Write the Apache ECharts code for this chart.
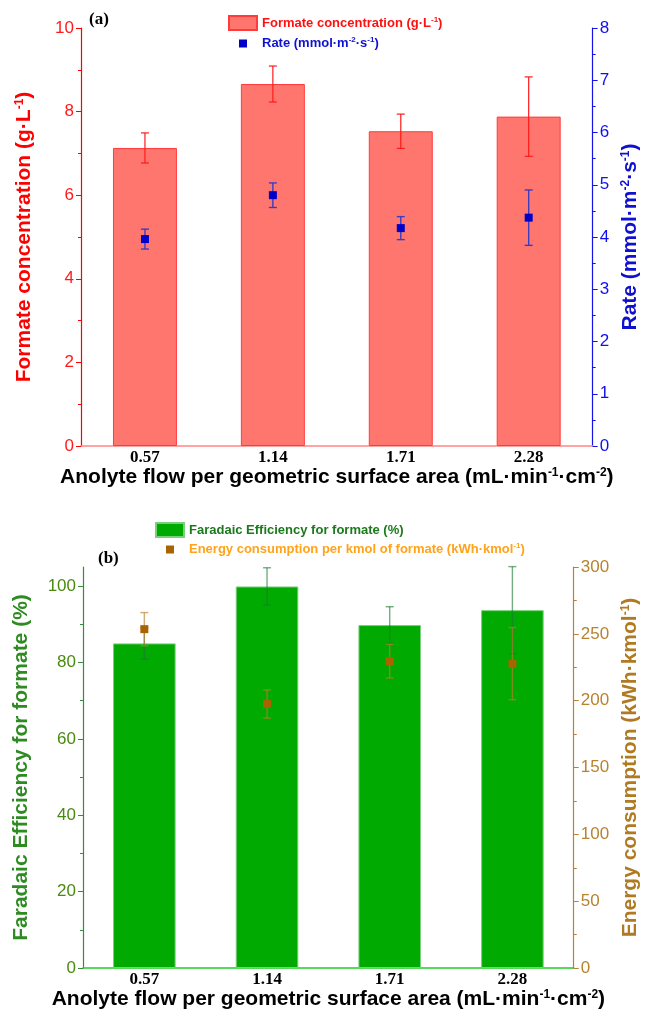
<!DOCTYPE html>
<html>
<head>
<meta charset="utf-8">
<script src="https://cdn.jsdelivr.net/npm/echarts@6/dist/echarts.min.js"></script>
<style>
  html, body { margin: 0; padding: 0; background: #fff; }
  #chart { width: 649px; height: 1011px; }
</style>
</head>
<body>
<div id="chart"></div>
<script>
// categories
const flows = ['0.57', '1.14', '1.71', '2.28'];

// panel (a)
const formateConc = [7.13, 8.66, 7.53, 7.88];
const formateErr = [0.36, 0.43, 0.41, 0.95];
const rate = [3.96, 4.80, 4.17, 4.37];
const rateErr = [0.19, 0.235, 0.22, 0.53];

// panel (b)
const faradaic = [85.0, 99.9, 89.8, 93.7];
const faradaicErr = [4.1, 4.9, 4.8, 11.4];
const energy = [253.5, 197.5, 229.6, 227.7];
const energyErr = [12.4, 10.5, 12.6, 27.0];

// tick values
const feTicks = [0, 20, 40, 60, 80, 100];
const feMinor = [10, 30, 50, 70, 90];

const chart = echarts.init(document.getElementById('chart'));

const withErr = (vals, errs) => vals.map((v, i) => [i, v, errs[i]]);

function errRender(color, cap, width) {
  return function (params, api) {
    const x = api.value(0), y = api.value(1), e = api.value(2);
    const hi = api.coord([x, y + e]);
    const lo = api.coord([x, y - e]);
    const st = { stroke: color, lineWidth: width };
    return {
      type: 'group',
      children: [
        { type: 'line', shape: { x1: hi[0], y1: hi[1], x2: lo[0], y2: lo[1] }, style: st },
        { type: 'line', shape: { x1: hi[0] - cap, y1: hi[1], x2: hi[0] + cap, y2: hi[1] }, style: st },
        { type: 'line', shape: { x1: lo[0] - cap, y1: lo[1], x2: lo[0] + cap, y2: lo[1] }, style: st }
      ]
    };
  };
}

const ARIAL = 'Liberation Sans, Arial, sans-serif';
const SERIF = 'Liberation Serif, Times New Roman, serif';
const squareIcon = 'path://M0,0h0.01v0.01h-0.01zM27.99,13.99h0.01v0.01h-0.01zM10,3h8v8h-8z';

function sup(color, size) {
  return { color: color, fontSize: size, fontWeight: 'bold', fontFamily: ARIAL, verticalAlign: 'top', lineHeight: size + 2 };
}

const legendLabels = {
  conc: '{r|Formate concentration (g·L}{rs|-1}{r|)}',
  rate: '{b|Rate (mmol·m}{bs|-2}{b|·s}{bs|-1}{b|)}',
  fe: '{g|Faradaic Efficiency for formate (%)}',
  en: '{o|Energy consumption per kmol of formate (kWh·kmol}{os|-1}{o|)}'
};
const legText = (c) => ({ color: c, fontSize: 13, fontWeight: 'bold', fontFamily: ARIAL, lineHeight: 15 });

const xName = 'Anolyte flow per geometric surface area (mL·min{s|-1}·cm{s|-2})';

function xAxisCfg(gridIndex, lineColor) {
  return {
    type: 'category', gridIndex: gridIndex, data: flows,
    axisLine: { lineStyle: { color: lineColor, width: 1.5 } },
    axisTick: { show: false },
    axisLabel: { color: '#000', fontSize: 17, fontWeight: 'bold', fontFamily: SERIF, margin: 3 },
    name: xName, nameLocation: 'middle', nameGap: 21,
    nameTextStyle: {
      color: '#000', fontSize: 21, fontWeight: 'bold', fontFamily: ARIAL,
      rich: { s: sup('#000', 12) }
    }
  };
}

function yAxisCfg(o) {
  return {
    type: 'value', gridIndex: o.grid, position: o.pos, min: o.min, max: o.max, interval: o.interval,
    splitLine: { show: false },
    axisLine: { show: true, lineStyle: { color: o.line, width: 1.2 } },
    axisTick: Object.assign({ show: true, length: 5, lineStyle: { color: o.line } }, o.tickValues ? { customValues: o.tickValues } : {}),
    minorTick: { show: o.minor !== false, splitNumber: 2, length: 3, lineStyle: { color: o.line } },
    axisLabel: Object.assign({ color: o.label, fontSize: 17, fontFamily: ARIAL, margin: 7 }, o.labelValues ? { customValues: o.labelValues } : {}),
    name: o.name, nameLocation: 'middle', nameGap: o.gap, nameRotate: o.rotate,
    nameTextStyle: {
      color: o.nameColor, fontSize: 21, fontWeight: 'bold', fontFamily: ARIAL,
      rich: { s: sup(o.nameColor, 12) }
    }
  };
}

chart.setOption({
  backgroundColor: '#fff',
  animation: false,
  title: [
    { text: '(a)', left: 84, top: 6, textStyle: { fontFamily: SERIF, fontWeight: 'bold', fontSize: 17, color: '#000' } },
    { text: '(b)', left: 93, top: 545, textStyle: { fontFamily: SERIF, fontWeight: 'bold', fontSize: 17, color: '#000' } }
  ],
  grid: [
    { left: 81, right: 52, top: 28, height: 418 },
    { left: 83, right: 71, top: 567, height: 403 }
  ],
  legend: [
    {
      orient: 'vertical', left: 223, top: 10, itemWidth: 28, itemHeight: 14, itemGap: 5,
      formatter: (n) => legendLabels[n],
      textStyle: {
        rich: { r: legText('#FF1010'), rs: sup('#FF1010', 8), b: legText('#1010D0'), bs: sup('#1010D0', 8) }
      },
      data: [
        { name: 'conc', icon: 'rect' },
        { name: 'rate', icon: squareIcon }
      ]
    },
    {
      orient: 'vertical', left: 150, top: 517, itemWidth: 28, itemHeight: 14, itemGap: 4,
      formatter: (n) => legendLabels[n],
      textStyle: {
        rich: { g: legText('#1B7A1B'), o: legText('#FFA31A'), os: sup('#FFA31A', 8) }
      },
      data: [
        { name: 'fe', icon: 'rect' },
        { name: 'en', icon: squareIcon }
      ]
    }
  ],
  xAxis: [
    xAxisCfg(0, '#FF8585'),
    xAxisCfg(1, '#22CC22')
  ],
  yAxis: [
    yAxisCfg({ grid: 0, pos: 'left', min: 0, max: 10, interval: 2, line: '#FF0000', label: '#FF1A1A',
      name: 'Formate concentration (g·L{s|-1})', gap: 46, rotate: 90, nameColor: '#FF0000' }),
    yAxisCfg({ grid: 0, pos: 'right', min: 0, max: 8, interval: 1, line: '#1414E6', label: '#1010F0',
      name: 'Rate (mmol·m{s|-2}·s{s|-1})', gap: 21, rotate: 90, nameColor: '#1010D0' }),
    yAxisCfg({ grid: 1, pos: 'left', min: 0, max: 105, interval: 20, line: '#3A8A3A', label: '#4A8A10',
      tickValues: feTicks, labelValues: feTicks, minor: false,
      name: 'Faradaic Efficiency for formate (%)', gap: 51, rotate: 90, nameColor: '#2E8B22' }),
    yAxisCfg({ grid: 1, pos: 'right', min: 0, max: 300, interval: 50, line: '#B8803A', label: '#B8822E',
      name: 'Energy consumption (kWh·kmol{s|-1})', gap: 44, rotate: 90, nameColor: '#B07A22' }),
    {
      // minor ticks for the left axis of panel (b)
      type: 'value', gridIndex: 1, position: 'left', min: 0, max: 105,
      splitLine: { show: false },
      axisLine: { show: false },
      axisLabel: { show: false },
      axisTick: { show: true, length: 3, customValues: feMinor, lineStyle: { color: '#3A8A3A' } }
    }
  ],
  series: [
    {
      name: 'conc', type: 'bar', xAxisIndex: 0, yAxisIndex: 0, barWidth: '50%', z: 2,
      data: formateConc,
      itemStyle: { color: '#FF766F', borderColor: '#FF3B3B', borderWidth: 1 }
    },
    {
      type: 'custom', xAxisIndex: 0, yAxisIndex: 0, z: 3,
      renderItem: errRender('#FF1A1A', 4, 1.2),
      data: withErr(formateConc, formateErr)
    },
    {
      type: 'custom', xAxisIndex: 0, yAxisIndex: 1, z: 4,
      renderItem: errRender('#3C3CC0', 4, 1.4),
      data: withErr(rate, rateErr)
    },
    {
      name: 'rate', type: 'scatter', xAxisIndex: 0, yAxisIndex: 1, z: 5,
      symbol: 'rect', symbolSize: 8,
      data: rate,
      itemStyle: { color: '#0000C8', borderWidth: 0, opacity: 1 }
    },
    {
      name: 'fe', type: 'bar', xAxisIndex: 1, yAxisIndex: 2, barWidth: '51%', z: 2,
      data: faradaic,
      itemStyle: { color: '#00AA00', borderColor: '#7ACF7A', borderWidth: 1 }
    },
    {
      type: 'custom', xAxisIndex: 1, yAxisIndex: 2, z: 3,
      renderItem: errRender('rgba(25,125,50,0.62)', 4, 1.4),
      data: withErr(faradaic, faradaicErr)
    },
    {
      type: 'custom', xAxisIndex: 1, yAxisIndex: 3, z: 4,
      renderItem: errRender('rgba(190,125,45,0.65)', 4, 1.4),
      data: withErr(energy, energyErr)
    },
    {
      name: 'en', type: 'scatter', xAxisIndex: 1, yAxisIndex: 3, z: 5,
      symbol: 'rect', symbolSize: 8,
      data: energy,
      itemStyle: { color: '#A86400', borderWidth: 0, opacity: 1 }
    }
  ]
});
</script>
</body>
</html>
